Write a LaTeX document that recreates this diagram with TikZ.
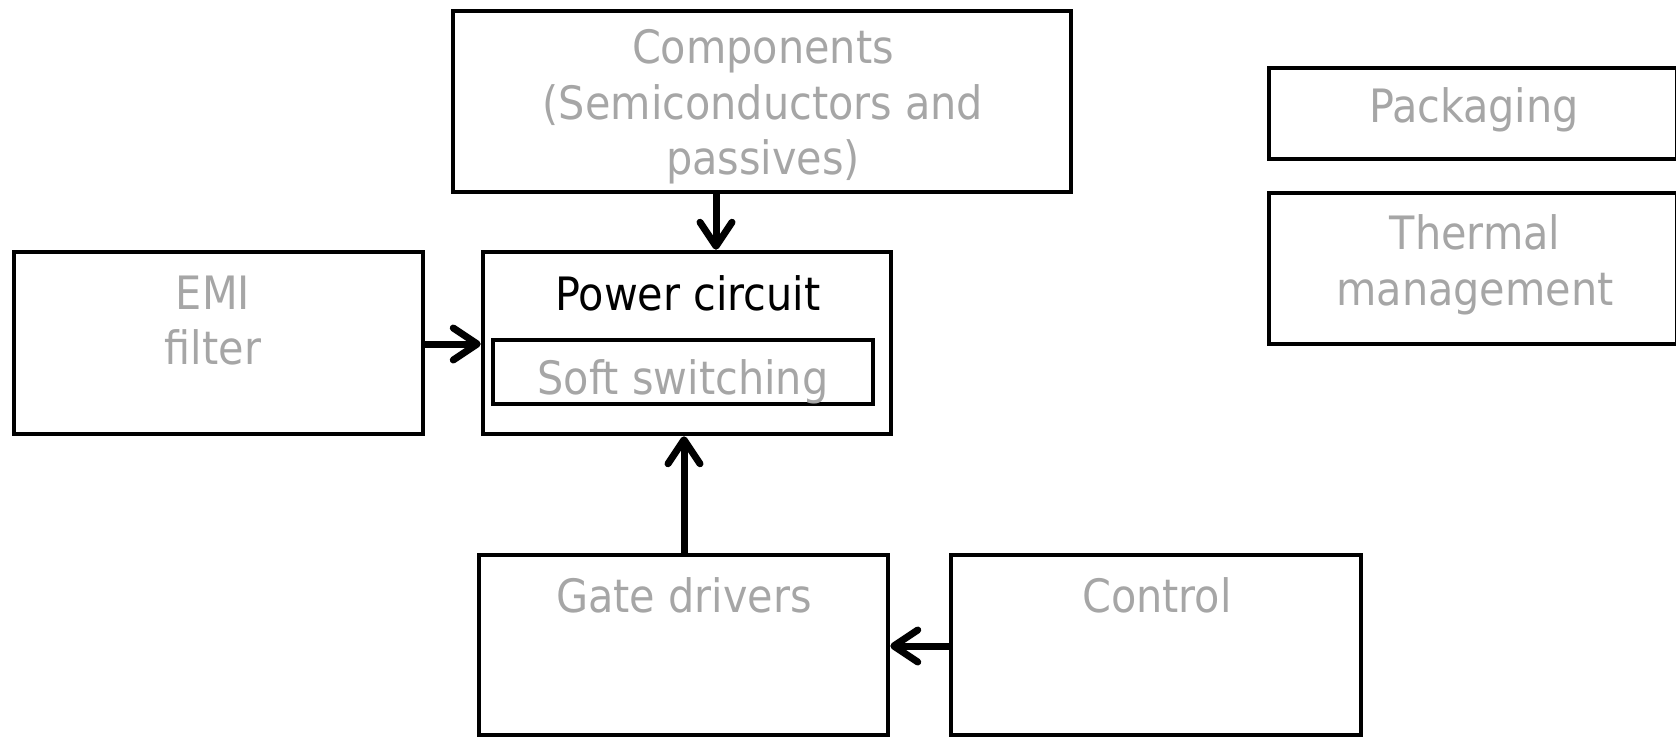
\documentclass[tikz,border=0pt]{standalone}
\usepackage{fontspec}
\setmainfont{DejaVu Sans Condensed}
\usetikzlibrary{arrows.meta}
\definecolor{txtgrey}{HTML}{A6A6A6}
\tikzset{
  box/.style={draw=black, line width=4.5pt, minimum width=#1, inner sep=0pt, anchor=center},
  lbl/.style={font=\fontsize{46}{55.6}\selectfont, text=txtgrey, align=center, inner sep=0pt, anchor=center},
  arr/.style={line width=7pt, -{Straight Barb[length=24pt, width=32pt, line width=7pt, line cap=round, round]}},
}
\begin{document}
\begin{tikzpicture}[x=1pt, y=-1pt]
\useasboundingbox (0,0) rectangle (1676,737);
% boxes
\node[box=618pt, minimum height=181pt] (comp) at (762,101.5) {};
\node[box=408pt, minimum height=91pt] (pack) at (1473,113.5) {};
\node[box=408pt, minimum height=151pt] (therm) at (1473,268.5) {};
\node[box=409pt, minimum height=182pt] (emi) at (218.5,343) {};
\node[box=408pt, minimum height=182pt] (pc) at (687,343) {};
\node[box=380pt, minimum height=64pt] (soft) at (683,372) {};
\node[box=409pt, minimum height=180pt] (gate) at (683.5,645) {};
\node[box=410pt, minimum height=180pt] (ctrl) at (1156,645) {};
% texts
\node[lbl] (tcomp) at (763,107) {Components\\(Semiconductors and\\passives)};
\node[lbl] (tpack) at (1474,110) {Packaging};
\node[lbl] (ttherm) at (1475,265) {Thermal\\management};
\node[lbl] (temi) at (213,320.5) {EMI\\filter};
\node[lbl, text=black] (tpc) at (688,293) {Power circuit};
\node[lbl] (tsoft) at (683,382) {Soft switching};
\node[lbl] (tgate) at (684,595) {Gate drivers};
\node[lbl] (tctrl) at (1157,595) {Control};
% connectors
\coordinate (ax1) at (716,0);
\coordinate (ay1) at (0,344);
\coordinate (ax2) at (684,0);
\coordinate (ay2) at (0,646);
\draw[arr] (comp.south -| ax1) -- (pc.north -| ax1);
\draw[arr] (emi.east |- ay1) -- (pc.west |- ay1);
\draw[arr] (gate.north -| ax2) -- (pc.south -| ax2);
\draw[arr] (ctrl.west |- ay2) -- (gate.east |- ay2);
\end{tikzpicture}
\end{document}
